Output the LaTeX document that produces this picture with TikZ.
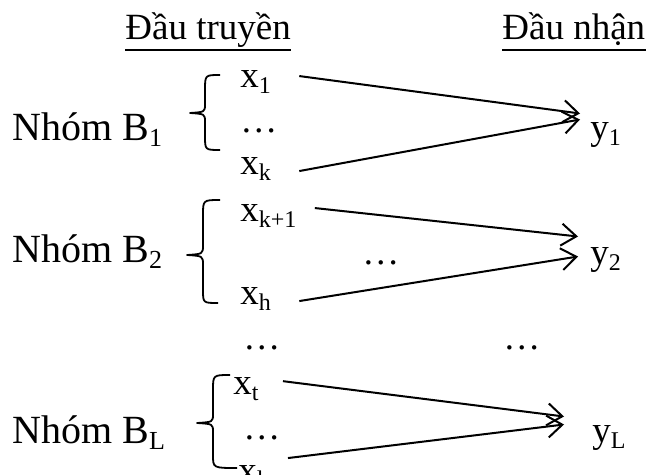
\documentclass[tikz,border=0pt]{standalone}
\usepackage{fontspec}
\setmainfont{Liberation Serif}
\usetikzlibrary{arrows.meta}
\newcommand\sbx[1]{\raisebox{-0.3ex}{\fontsize{12}{13}\selectfont #1}}
\newcommand\sbg[1]{\raisebox{-0.3ex}{\fontsize{13}{14}\selectfont #1}}
\begin{document}
\begin{tikzpicture}[x=0.5pt,y=-0.5pt,
  txt/.style={anchor=base west,inner sep=0pt,font=\fontsize{18.5}{22}\selectfont},
  grp/.style={anchor=base west,inner sep=0pt,font=\fontsize{20}{24}\selectfont},
  arr/.style={line width=1pt,-{Straight Barb[length=7.5pt,width=11pt,line width=1pt]}},
  brace/.style={line width=0.9pt,line join=round}]
\useasboundingbox (0,0) rectangle (648,475);
% headers
\node[txt] (h1) at (125,40) {Đầu truyền};
\node[txt] (h2) at (502,40) {Đầu nhận};
\draw[line width=0.8pt] ([yshift=-5pt]h1.base west) -- ([yshift=-5pt]h1.base east);
\draw[line width=0.8pt] ([yshift=-5pt]h2.base west) -- ([yshift=-5pt]h2.base east);
% group B1
\node[grp] (g1) at (12,141) {Nhóm B\sbg{1}};
\node[txt] (x1) at (240,88) {x\sbx{1}};
\node[txt] (d1) at (240,133) {…};
\node[txt] (xk) at (240,175) {x\sbx{k}};
\node[txt] (y1) at (590,140) {y\sbx{1}};
\draw[brace] (220,75) .. controls (205,75) .. (205,90) -- (205,104) .. controls (205,112) .. (190,113) .. controls (205,114) .. (205,122) -- (205,136) .. controls (205,150) .. (220,150);
\draw[arr] ([xshift=14pt,yshift=3pt]x1.east) -- ([xshift=-5pt,yshift=11pt]y1.west);
\draw[arr] ([xshift=14pt,yshift=-1pt]xk.east) -- ([xshift=-5pt,yshift=8pt]y1.west);
% group B2
\node[grp] (g2) at (12,263) {Nhóm B\sbg{2}};
\node[txt] (xk1) at (240,222) {x\sbx{k+1}};
\node[txt] (d2) at (362,265) {…};
\node[txt] (xh) at (240,305) {x\sbx{h}};
\node[txt] (y2) at (590,265) {y\sbx{2}};
\draw[brace] (220,200) .. controls (203,200) .. (203,215) -- (203,245) .. controls (203,254) .. (187,255) .. controls (203,256) .. (203,265) -- (203,290) .. controls (203,303) .. (218,303);
\draw[arr] ([xshift=9pt,yshift=4pt]xk1.east) -- ([xshift=-6pt,yshift=12pt]y2.west);
\draw[arr] ([xshift=14pt,yshift=-1pt]xh.east) -- ([xshift=-6pt,yshift=2pt]y2.west);
% middle dots
\node[txt] (dm1) at (243,350) {…};
\node[txt] (dm2) at (503,350) {…};
% group BL
\node[grp] (gL) at (12,444) {Nhóm B\sbg{L}};
\node[txt] (xt) at (233,395) {x\sbx{t}};
\node[txt] (dL) at (243,440) {…};
\node[txt] (xl) at (238,482) {x\sbx{l}};
\node[txt] (yL) at (592,443) {y\sbx{L}};
\draw[brace] (230,375) .. controls (213,375) .. (213,390) -- (213,414) .. controls (213,422) .. (197,423) .. controls (213,424) .. (213,432) -- (213,455) .. controls (213,468) .. (237,468);
\draw[arr] ([xshift=12pt,yshift=4pt]xt.east) -- ([xshift=-14pt,yshift=11pt]yL.west);
\draw[arr] ([xshift=12pt,yshift=9pt]xl.east) -- ([xshift=-14pt,yshift=7pt]yL.west);
\end{tikzpicture}
\end{document}
